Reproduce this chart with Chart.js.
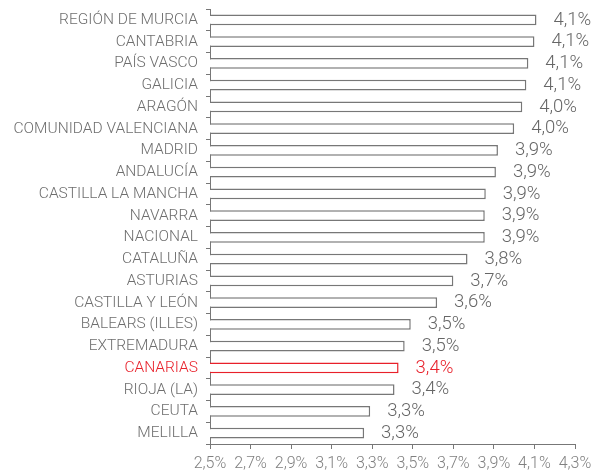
<!DOCTYPE html>
<html><head><meta charset="utf-8">
<script src="https://cdn.jsdelivr.net/npm/chart.js@4/dist/chart.umd.min.js"></script>
<style>html,body{margin:0;padding:0;background:#fff}#wrap{width:606px;height:473px}</style>
</head><body><div id="wrap"><canvas id="c" width="606" height="473"></canvas></div>
<script>
const categories = ["REGIÓN DE MURCIA","CANTABRIA","PAÍS VASCO","GALICIA","ARAGÓN","COMUNIDAD VALENCIANA","MADRID","ANDALUCÍA","CASTILLA LA MANCHA","NAVARRA","NACIONAL","CATALUÑA","ASTURIAS","CASTILLA Y LEÓN","BALEARS (ILLES)","EXTREMADURA","CANARIAS","RIOJA (LA)","CEUTA","MELILLA"];
const values = [4.11,4.10,4.07,4.06,4.04,4.00,3.92,3.91,3.86,3.855,3.855,3.77,3.70,3.62,3.49,3.46,3.43,3.41,3.29,3.26];
const highlight = "CANARIAS";
const xTicks = [2.5,2.7,2.9,3.1,3.3,3.5,3.7,3.9,4.1,4.3];

const GRAY = '#777777', RED = '#e8202a';
const isHi = c => c === highlight;
const fmt = v => v.toFixed(1).replace('.', ',') + '%';

const labelPlugin = {
  id: 'vlabels',
  afterDatasetsDraw(chart) {
    const ctx = chart.ctx, meta = chart.getDatasetMeta(0), xs = chart.scales.x;
    ctx.save();
    ctx.font = '300 18.5px Roboto';
    ctx.textBaseline = 'middle';
    ctx.textAlign = 'left';
    meta.data.forEach((bar, i) => {
      ctx.fillStyle = isHi(categories[i]) ? RED : '#666666';
      ctx.fillText(fmt(values[i]), xs.getPixelForValue(values[i]) + 17, bar.y);
    });
    ctx.restore();
  }
};

new Chart(document.getElementById('c'), {
  type: 'bar',
  data: {
    labels: categories,
    datasets: [{
      data: values,
      backgroundColor: '#ffffff',
      borderColor: categories.map(c => isHi(c) ? RED : '#777777'),
      borderWidth: 1.5,
      borderSkipped: false,
      barPercentage: 0.5,
      categoryPercentage: 1
    }]
  },
  options: {
    indexAxis: 'y',
    responsive: false,
    animation: false,
    layout: { padding: { top: 9, right: 31, left: 0, bottom: 0 } },
    plugins: { legend: { display: false }, tooltip: { enabled: false } },
    scales: {
      x: {
        min: 2.5, max: 4.3,
        afterBuildTicks: s => { s.ticks = xTicks.map(v => ({ value: v })); },
        afterFit: s => { s.height = 29; },
        border: { display: true, color: GRAY, width: 1 },
        grid: { display: true, drawOnChartArea: false, drawTicks: true, tickLength: 5, color: GRAY },
        ticks: { color: '#808080', font: { family: 'Roboto', size: 16, weight: 300 }, padding: 5, maxRotation: 0, autoSkip: false,
          callback: v => fmt(v) }
      },
      y: {
        afterFit: s => { s.width = 210; s.paddingTop = 0; s.paddingBottom = 0; },
        border: { display: true, color: GRAY, width: 1 },
        grid: { display: true, offset: true, drawOnChartArea: false, drawTicks: true, tickLength: 4, color: GRAY },
        ticks: { autoSkip: false, padding: 8,
          color: ctx => isHi(categories[ctx.index]) ? RED : '#6e6e6e',
          font: { family: 'Roboto', size: 15.5, weight: 300 } }
      }
    }
  },
  plugins: [labelPlugin]
});
</script></body></html>
